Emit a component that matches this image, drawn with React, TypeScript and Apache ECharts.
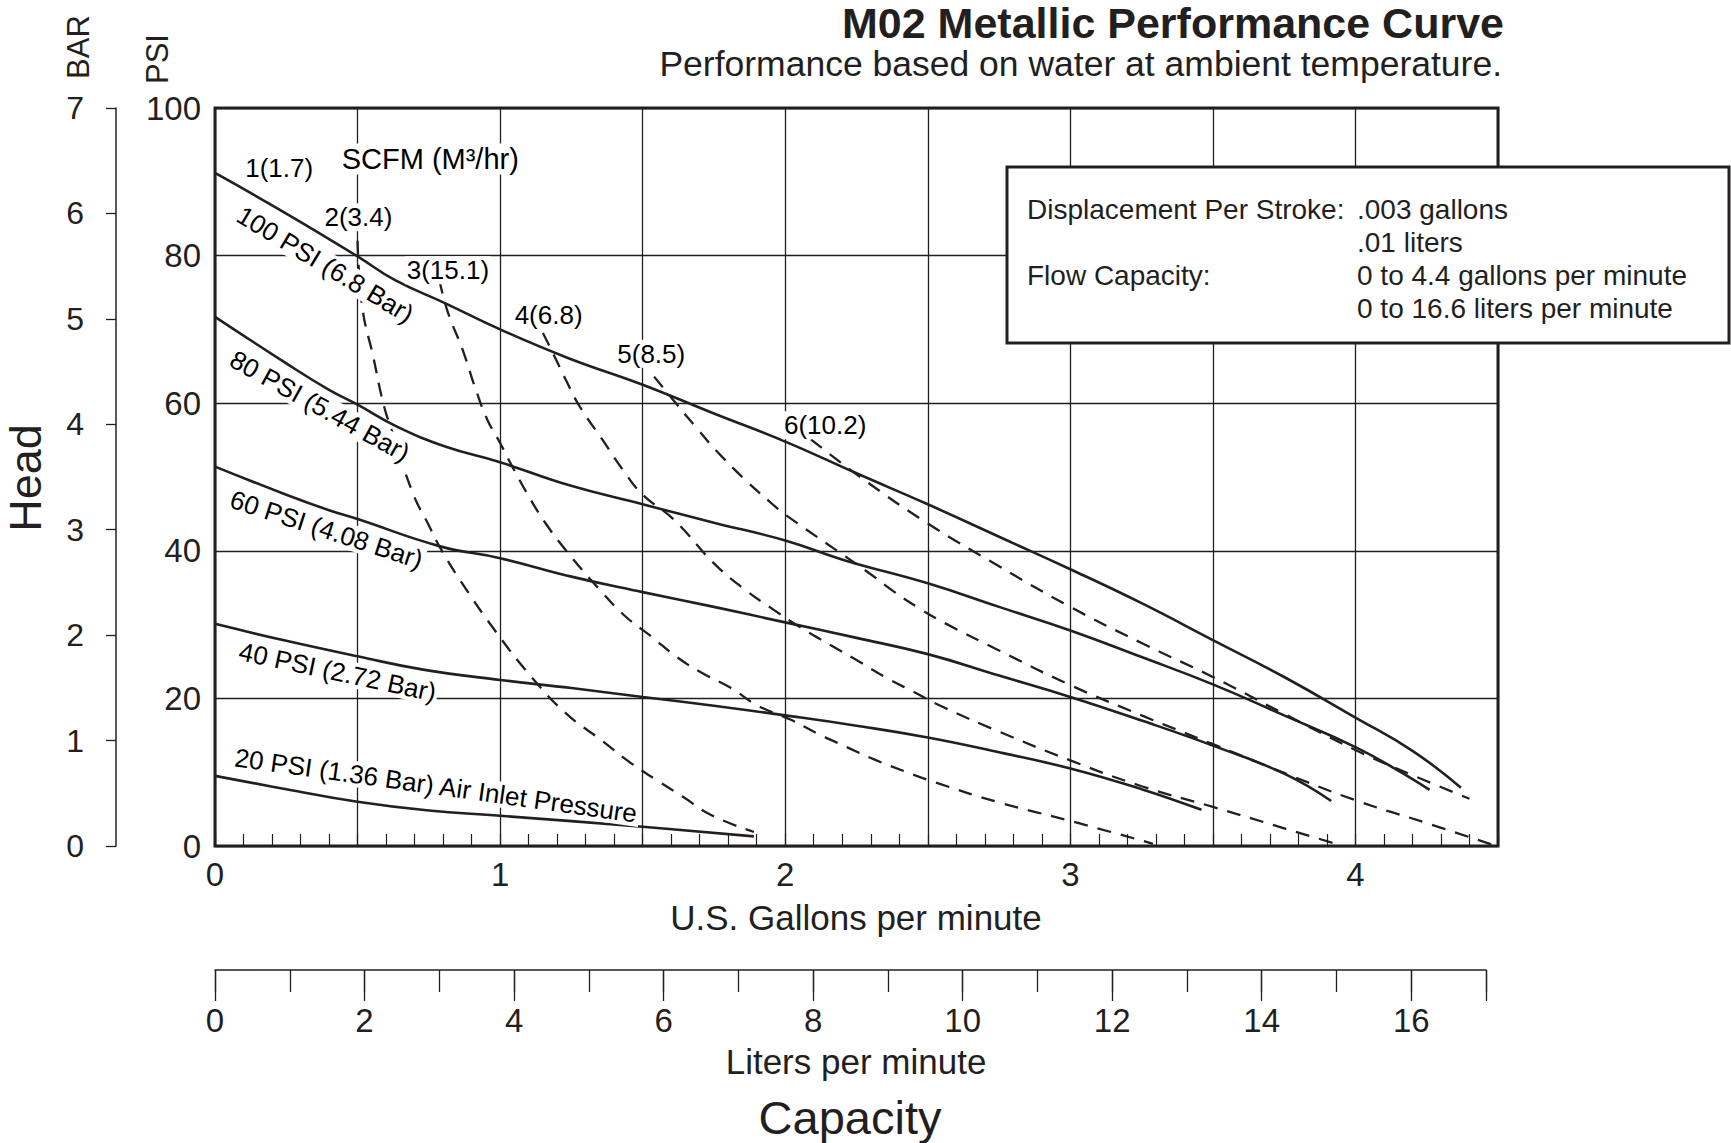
import React, { useEffect, useRef } from "react";
import * as echarts from "echarts";

const FONT = '"Liberation Sans", Arial, Helvetica, sans-serif';
const INK = "#231f20";

// Capacity axes
const gpmMin = 0;
const gpmMax = 4.5;
const gpmStep = 0.5;
const literMax = 17;
const psiMax = 100;
const psiStep = 20;
const barMax = 7;

// Air inlet pressure curves: [U.S. gallons per minute, head PSI]
const psi100 = [[0, 91.2], [0.25, 85.7], [0.5, 79.9], [0.63, 76.7], [0.81, 73.5], [1.0, 70.0], [1.24, 66.1], [1.5, 62.5], [1.75, 58.6], [2.0, 54.8], [2.25, 50.5], [2.5, 46.3], [2.75, 41.9], [3.0, 37.5], [3.25, 32.9], [3.5, 27.9], [3.75, 22.9], [4.0, 17.4], [4.2, 12.9], [4.37, 7.9]];
const psi80 = [[0, 71.7], [0.25, 65.4], [0.4, 61.8], [0.5, 59.8], [0.64, 56.8], [0.81, 54.1], [1.0, 52], [1.24, 48.9], [1.5, 46.3], [1.75, 43.8], [2.0, 41.4], [2.21, 38.7], [2.5, 35.6], [2.75, 32.4], [3.0, 29.2], [3.25, 25.6], [3.5, 21.9], [3.75, 17.7], [4.0, 13.4], [4.15, 10.2], [4.26, 7.6]];
const psi60 = [[0, 51.4], [0.25, 47.6], [0.4, 45.5], [0.5, 44.3], [0.79, 40.6], [1.0, 39.0], [1.25, 36.5], [1.5, 34.4], [1.75, 32.4], [2.0, 30.3], [2.25, 28.2], [2.5, 26], [2.75, 23.1], [3.0, 20.2], [3.25, 17], [3.5, 13.6], [3.75, 9.8], [3.915, 6.1]];
const psi40 = [[0, 30.1], [0.25, 27.8], [0.5, 25.7], [0.73, 23.9], [1.0, 22.5], [1.25, 21.4], [1.5, 20.2], [1.75, 19.0], [2.0, 17.7], [2.25, 16.3], [2.5, 14.7], [2.75, 12.7], [3.0, 10.5], [3.25, 7.7], [3.46, 4.9]];
const psi20 = [[0, 9.5], [0.25, 7.7], [0.5, 6.0], [0.75, 4.8], [1.0, 4.1], [1.5, 2.6], [1.89, 1.3]];

// Air consumption (SCFM) curves
const scfm2 = [[0.5, 82], [0.517, 72.9], [0.555, 66.3], [0.59, 60], [0.619, 56.4], [0.694, 47.8], [0.752, 43.3], [0.787, 40.6], [0.86, 36], [0.98, 29.3], [1.11, 22.9], [1.23, 18], [1.36, 14.2], [1.46, 11.2], [1.55, 8.9], [1.64, 6.7], [1.74, 4.2], [1.89, 1.9]];
const scfm3 = [[0.787, 76.7], [0.816, 72.4], [0.869, 67.2], [0.915, 61.8], [0.956, 57.7], [1.0, 54.6], [1.043, 51.4], [1.1, 47.4], [1.16, 43.7], [1.23, 40.1], [1.35, 34.7], [1.44, 31.1], [1.53, 28.4], [1.62, 25.6], [1.71, 23.4], [1.81, 21.4], [1.9, 19.1], [2.02, 17.1], [2.11, 15.3], [2.21, 13.5], [2.32, 11.6], [2.42, 10.1], [2.52, 8.7], [2.75, 5.9], [3.0, 3.4], [3.29, 0.3]];
const scfm4 = [[1.15, 69.5], [1.18, 67.2], [1.23, 63.2], [1.28, 59.5], [1.36, 55], [1.43, 51], [1.5, 47.6], [1.61, 44.2], [1.75, 38.3], [1.86, 34.7], [1.96, 32.0], [2.05, 29.7], [2.16, 27.2], [2.25, 25.2], [2.35, 22.9], [2.45, 20.9], [2.55, 18.9], [2.75, 15.5], [3.0, 11.6], [3.25, 8.1], [3.5, 5.3], [3.75, 2.4], [3.93, 0.3]];
const scfm5 = [[1.54, 63.6], [1.61, 60.3], [1.69, 56.6], [1.76, 53.5], [1.86, 49.6], [1.95, 46.5], [2.0, 44.9], [2.29, 37.1], [2.38, 34.5], [2.47, 32.2], [2.56, 30.2], [2.75, 26.5], [3.0, 21.8], [3.25, 17.7], [3.5, 13.8], [3.75, 9.9], [4.0, 6.2], [4.25, 3.1], [4.49, 0.05]];
const scfm6 = [[2.09, 55.1], [2.27, 49.8], [2.5, 43.7], [2.75, 37.9], [3.0, 32.4], [3.25, 27.5], [3.5, 22.9], [3.75, 17.9], [4.0, 13], [4.2, 9.6], [4.4, 6.4]];

const solidCurves = [psi100, psi80, psi60, psi40, psi20];
const solidNames = ["100 PSI", "80 PSI", "60 PSI", "40 PSI", "20 PSI"];
const dashedCurves = [scfm2, scfm3, scfm4, scfm5, scfm6];
const dashedNames = ["SCFM 2", "SCFM 3", "SCFM 4", "SCFM 5", "SCFM 6"];

// Curve annotations (anchored in data coordinates)
const curveLabels = ["100 PSI (6.8 Bar)", "80 PSI (5.44 Bar)", "60 PSI (4.08 Bar)", "40 PSI (2.72 Bar)", "20 PSI (1.36 Bar) Air Inlet Pressure"];
const curveLabelAt = [[0.387, 78.8], [0.368, 59.6], [0.391, 42.9], [0.43, 23.6], [0.775, 8.2]];
const curveLabelAngle = [-31, -29, -18, -12, -8];

const scfmLabels = ["1(1.7)", "2(3.4)", "3(15.1)", "4(6.8)", "5(8.5)", "6(10.2)"];
const scfmLabelAt = [[0.225, 91.9], [0.503, 85.2], [0.817, 78.0], [1.17, 72.0], [1.53, 66.7], [2.14, 57.0]];
const scfmTitle = "SCFM (M³/hr)";
const scfmTitleAt = [0.755, 93.1];

const infoLeft = ["Displacement Per Stroke:", "", "Flow Capacity:", ""];
const infoRight = [".003 gallons", ".01 liters", "0 to 4.4 gallons per minute", "0 to 16.6 liters per minute"];

function txt(text: string, x: number, y: number, size: number, extra: any = {}, rot = 0) {
  return {
    type: "text",
    x,
    y,
    rotation: rot,
    z: 120,
    style: {
      text,
      fill: INK,
      fontSize: size,
      lineHeight: size,
      fontFamily: FONT,
      align: "center",
      verticalAlign: "middle",
      ...extra,
    },
  };
}

export default function App() {
  const ref = useRef<HTMLDivElement>(null);
  useEffect(() => {
    if (!ref.current) return;
    const chart = echarts.init(ref.current, undefined, { renderer: "svg" });

    const labelBase = {
      color: "#000000",
      opacity: 1,
      fontFamily: FONT,
      fontSize: 26,
      backgroundColor: "#ffffff",
      textBorderWidth: 0,
      textBorderColor: "transparent",
      padding: [0, 2],
      position: "inside",
      align: "center",
      verticalAlign: "middle",
      formatter: (p: any) => p.name,
    };

    const series: any[] = [];
    solidCurves.forEach((d, i) => {
      series.push({
        type: "line",
        name: solidNames[i],
        data: d,
        showSymbol: false,
        smooth: 0.45,
        lineStyle: { color: INK, width: 2.6 },
        z: 3,
      });
    });
    dashedCurves.forEach((d, i) => {
      series.push({
        type: "line",
        name: dashedNames[i],
        data: d,
        showSymbol: false,
        smooth: 0.45,
        lineStyle: { color: INK, width: 2.3, type: [14, 10] },
        z: 3,
      });
    });
    series.push({
      type: "scatter",
      name: "curve labels",
      symbolSize: 0,
      itemStyle: { color: INK },
      z: 10,
      label: { show: true, ...labelBase },
      data: curveLabels.map((t, i) => ({ name: t, value: curveLabelAt[i], label: { rotate: curveLabelAngle[i] } })),
    });
    series.push({
      type: "scatter",
      name: "scfm labels",
      symbolSize: 0,
      itemStyle: { color: INK },
      z: 10,
      label: { show: true, ...labelBase, padding: [1, 2] },
      data: [
        ...scfmLabels.map((t, i) => ({ name: t, value: scfmLabelAt[i] })),
        { name: scfmTitle, value: scfmTitleAt, label: { fontSize: 29 } },
      ],
    });

    const graphic: any[] = [
      txt("M02 Metallic Performance Curve", 1504, 23, 43, { align: "right", fontWeight: "bold" }),
      txt("Performance based on water at ambient temperature.", 1502, 64, 35.5, { align: "right" }),
      txt("BAR", 78, 47, 31, {}, Math.PI / 2),
      txt("PSI", 157, 59, 31, {}, Math.PI / 2),
      txt("Head", 25, 478, 45, {}, Math.PI / 2),
      txt("U.S. Gallons per minute", 856, 917, 35),
      txt("Liters per minute", 856, 1061, 35),
      txt("Capacity", 850, 1117, 47),
      {
        type: "rect",
        z: 110,
        shape: { x: 1007, y: 167, width: 722, height: 176 },
        style: { fill: "#ffffff", stroke: INK, lineWidth: 3 },
      },
    ];
    infoLeft.forEach((t, i) => {
      if (t) graphic.push(txt(t, 1027, 209 + i * 33, 28, { align: "left" }));
    });
    infoRight.forEach((t, i) => {
      graphic.push(txt(t, 1357, 209 + i * 33, 28, { align: "left" }));
    });

    const axisText = { color: INK, fontFamily: FONT };

    chart.setOption({
      animation: false,
      backgroundColor: "#ffffff",
      grid: [
        { left: 215, top: 108, width: 1283, height: 738, show: true, borderColor: INK, borderWidth: 3, backgroundColor: "transparent" },
        { left: 215, top: 969, width: 1271, height: 1, show: false },
      ],
      xAxis: [
        {
          gridIndex: 0,
          type: "value",
          min: gpmMin,
          max: gpmMax,
          interval: gpmStep,
          axisLine: { show: false },
          axisTick: { show: true, inside: true, length: 12, lineStyle: { color: INK, width: 1.2 } },
          minorTick: { show: true, splitNumber: 5, length: 12, lineStyle: { color: INK, width: 1.2 } },
          splitLine: { show: true, lineStyle: { color: INK, width: 1.3 } },
          axisLabel: { ...axisText, fontSize: 33, margin: 12, formatter: (v: number) => (Number.isInteger(v) ? String(v) : "") },
        },
        {
          gridIndex: 1,
          type: "value",
          min: 0,
          max: literMax,
          interval: 2,
          position: "bottom",
          axisLine: { show: true, lineStyle: { color: INK, width: 1.5 } },
          axisTick: { show: true, inside: false, length: 31, lineStyle: { color: INK, width: 1.3 } },
          splitLine: { show: false },
          axisLabel: { ...axisText, fontSize: 33, margin: 34, formatter: (v: number) => (v === literMax ? "" : String(v)) },
        },
        {
          gridIndex: 1,
          type: "value",
          min: 0,
          max: literMax,
          interval: 1,
          position: "bottom",
          axisLine: { show: false },
          axisTick: { show: true, inside: false, length: 22, lineStyle: { color: INK, width: 1.3 } },
          splitLine: { show: false },
          axisLabel: { show: false },
        },
      ],
      yAxis: [
        {
          gridIndex: 0,
          type: "value",
          min: 0,
          max: psiMax,
          interval: psiStep,
          position: "left",
          axisLine: { show: false },
          axisTick: { show: false },
          splitLine: { show: true, lineStyle: { color: INK, width: 1.3 } },
          axisLabel: { ...axisText, fontSize: 33, margin: 14 },
        },
        {
          gridIndex: 0,
          type: "value",
          min: 0,
          max: barMax,
          interval: 1,
          position: "left",
          offset: 99,
          axisLine: { show: true, lineStyle: { color: INK, width: 1.5 } },
          axisTick: { show: true, inside: false, length: 10, lineStyle: { color: INK, width: 1.3 } },
          splitLine: { show: false },
          axisLabel: { ...axisText, fontSize: 32, margin: 32 },
        },
        { gridIndex: 1, type: "value", show: false, min: 0, max: 1 },
      ],
      series,
      graphic,
    });

    return () => chart.dispose();
  }, []);

  return <div ref={ref} style={{ position: "absolute", left: 0, top: 0, width: 1731, height: 1143 }} />;
}
